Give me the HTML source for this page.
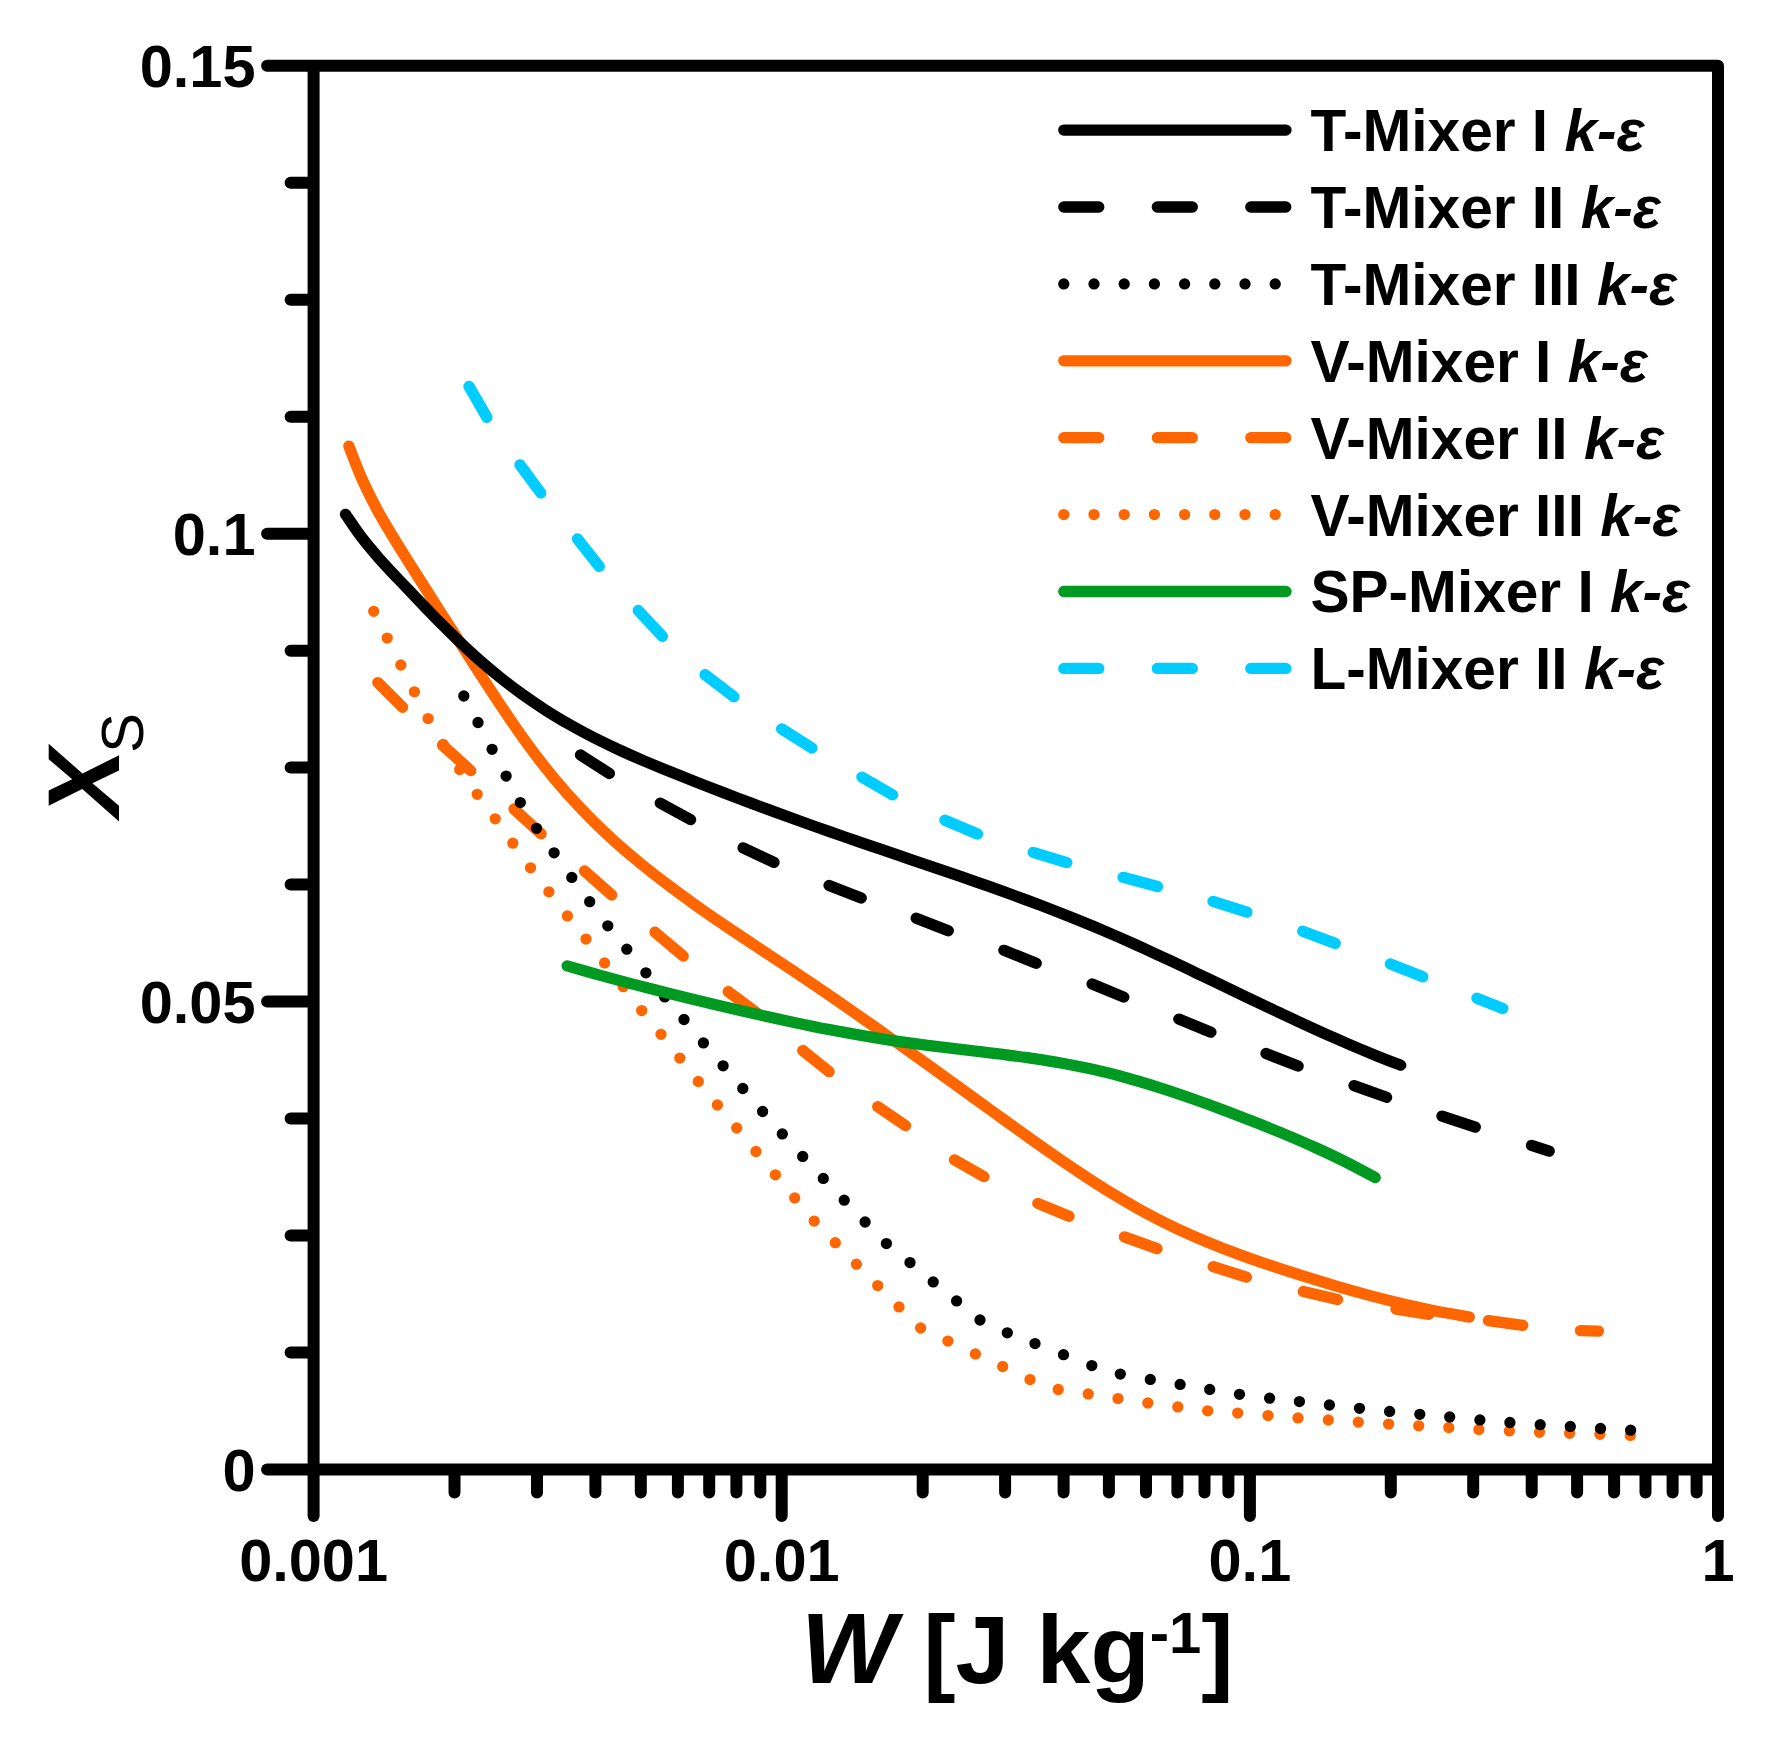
<!DOCTYPE html>
<html lang="en">
<head>
<meta charset="utf-8">
<title>X_S versus W for mixers</title>
<style>
html,body{margin:0;padding:0;background:#fff;}
body{width:1778px;height:1744px;overflow:hidden;}
svg{display:block;}
text{font-family:"Liberation Sans",sans-serif;font-weight:bold;fill:#000;}
.tick{font-size:59.5px;}
.leg{font-size:58.6px;}
.axl{font-size:97px;}
.it{font-style:italic;}
.ln{fill:none;stroke-width:11.3;stroke-linecap:round;stroke-linejoin:round;}
.ax{stroke-width:12;}
</style>
</head>
<body>
<svg width="1778" height="1744" viewBox="0 0 1778 1744">
<rect width="1778" height="1744" fill="#fff"/>

<g class="ln">
<path stroke="#ff6600" d="M348.9 446.1C351.0 451.4 356.9 467.5 361.5 477.9C366.1 488.3 371.2 498.5 376.5 508.5C381.9 518.6 387.8 528.3 393.7 538.0C399.6 547.8 405.8 557.3 411.8 567.0C417.9 576.6 424.0 586.2 430.1 595.8C436.2 605.4 442.4 615.0 448.5 624.6C454.6 634.2 460.7 643.8 466.9 653.4C473.0 663.0 479.1 672.6 485.4 682.1C491.6 691.7 497.8 701.2 504.2 710.6C510.6 720.1 517.0 729.5 523.6 738.7C530.3 748.0 537.1 757.1 544.1 766.0C551.2 775.0 558.5 783.7 566.0 792.3C573.6 800.8 581.4 809.1 589.4 817.2C597.4 825.3 605.7 833.1 614.1 840.8C622.5 848.4 631.2 855.8 640.0 863.0C648.8 870.2 657.8 877.2 666.9 884.1C675.9 891.0 685.1 897.7 694.4 904.3C703.7 910.9 713.0 917.4 722.5 923.8C731.9 930.2 741.4 936.5 750.8 942.8C760.3 949.1 769.9 955.3 779.3 961.6C788.8 967.9 798.3 974.2 807.8 980.6C817.2 986.9 826.6 993.4 836.0 999.8C845.4 1006.3 854.7 1012.8 864.0 1019.3C873.3 1025.9 882.6 1032.4 891.9 1039.0C901.2 1045.6 910.5 1052.3 919.7 1058.9C929.0 1065.5 938.2 1072.2 947.4 1078.9C956.7 1085.5 965.9 1092.2 975.1 1098.9C984.3 1105.5 993.6 1112.2 1002.8 1118.9C1012.0 1125.5 1021.3 1132.2 1030.6 1138.8C1039.9 1145.4 1049.2 1151.9 1058.5 1158.4C1067.9 1164.8 1077.4 1171.2 1086.9 1177.4C1096.4 1183.6 1106.0 1189.8 1115.8 1195.6C1125.5 1201.5 1135.4 1207.3 1145.4 1212.7C1155.4 1218.1 1165.6 1223.3 1175.8 1228.1C1186.1 1233.0 1196.6 1237.6 1207.1 1242.0C1217.6 1246.4 1228.2 1250.5 1238.9 1254.4C1249.5 1258.4 1260.3 1262.1 1271.1 1265.7C1281.9 1269.3 1292.8 1272.8 1303.6 1276.2C1314.5 1279.6 1325.4 1282.9 1336.3 1286.1C1347.2 1289.3 1358.2 1292.4 1369.2 1295.4C1380.2 1298.3 1391.2 1301.1 1402.3 1303.8C1413.4 1306.4 1424.5 1308.8 1435.7 1311.0C1446.8 1313.2 1463.7 1316.0 1469.3 1317.0"/>
<path stroke="#ff6600" d="M377.8 682.6L402.6 707.3M442.5 745.2L470.7 770.6M514.0 809.0L541.1 833.9M584.5 871.0L611.7 895.0M655.0 932.2L683.2 956.0M728.2 991.6L757.0 1013.0M802.7 1050.5L829.1 1071.6M877.7 1106.7L905.5 1125.7M954.5 1159.9L983.9 1176.6M1037.8 1203.4L1069.0 1216.3M1124.4 1236.9L1157.0 1248.6M1213.2 1266.7L1246.4 1277.1M1303.3 1291.5L1337.5 1299.5M1396.0 1309.2L1429.0 1314.3M1488.4 1320.6L1522.8 1325.3M1580.4 1330.6L1598.5 1331.1"/>
<path stroke="#ff6600" d="M373.7 611.3h0M387.2 638.1h0M400.8 665.0h0M414.4 691.8h0M428.1 718.6h0M443.2 744.5h0M459.7 769.5h0M477.2 794.3h0M495.2 818.8h0M512.8 843.2h0M530.5 867.8h0M548.9 891.8h0M567.4 915.9h0M586.0 939.1h0M604.6 962.9h0M623.2 986.7h0M641.7 1010.6h0M661.0 1034.3h0M679.8 1058.1h0M698.3 1081.4h0M717.4 1105.0h0M736.7 1128.0h0M755.9 1151.4h0M775.4 1174.8h0M794.7 1197.9h0M814.2 1221.1h0M835.3 1242.7h0M856.4 1264.2h0M877.7 1285.6h0M899.0 1306.9h0M920.6 1328.0h0M947.9 1341.1h0M975.4 1353.9h0M1002.7 1366.5h0M1030.0 1379.6h0M1058.2 1389.5h0M1088.2 1394.0h0M1118.0 1398.6h0M1147.8 1403.0h0M1177.8 1406.9h0M1207.7 1410.8h0M1237.7 1413.1h0M1268.0 1415.6h0M1298.0 1417.9h0M1328.3 1420.0h0M1358.3 1422.2h0M1388.6 1424.1h0M1418.7 1425.8h0M1448.8 1427.6h0M1478.9 1429.4h0M1509.4 1430.9h0M1539.5 1432.3h0M1569.6 1433.3h0M1599.9 1434.3h0M1630.3 1435.4h0"/>
<path stroke="#000" d="M345.5 514.3C348.2 518.1 355.9 529.9 361.6 537.3C367.3 544.7 373.4 551.9 379.6 558.9C385.8 565.9 392.3 572.7 398.7 579.5C405.2 586.3 411.6 593.1 418.1 599.9C424.6 606.6 431.1 613.4 437.6 620.1C444.2 626.7 450.8 633.4 457.6 639.9C464.3 646.4 471.2 652.8 478.2 659.0C485.2 665.2 492.4 671.2 499.7 677.1C507.0 682.9 514.5 688.6 522.1 694.1C529.7 699.5 537.5 704.8 545.3 709.9C553.2 714.9 561.2 719.8 569.4 724.4C577.5 729.1 585.8 733.5 594.1 737.8C602.4 742.0 610.9 746.1 619.4 750.0C627.9 753.9 636.5 757.7 645.1 761.4C653.7 765.0 662.4 768.6 671.1 772.1C679.8 775.6 688.5 779.0 697.2 782.5C705.9 785.9 714.7 789.3 723.4 792.6C732.2 796.0 740.9 799.3 749.7 802.6C758.5 805.9 767.2 809.2 776.0 812.4C784.8 815.6 793.6 818.8 802.5 822.0C811.3 825.1 820.1 828.3 828.9 831.4C837.8 834.5 846.6 837.6 855.5 840.6C864.3 843.7 873.2 846.7 882.1 849.7C890.9 852.8 899.8 855.8 908.7 858.8C917.6 861.8 926.4 864.8 935.3 867.8C944.2 870.8 953.0 873.9 961.9 876.9C970.7 880.0 979.6 883.1 988.4 886.2C997.2 889.3 1006.1 892.5 1014.9 895.7C1023.7 899.0 1032.4 902.2 1041.2 905.5C1050.0 908.9 1058.7 912.3 1067.4 915.7C1076.1 919.2 1084.8 922.7 1093.4 926.3C1102.1 930.0 1110.7 933.7 1119.3 937.4C1127.8 941.2 1136.4 945.0 1144.9 948.9C1153.4 952.8 1161.9 956.8 1170.4 960.7C1178.9 964.7 1187.4 968.7 1195.8 972.8C1204.3 976.8 1212.7 980.8 1221.2 984.9C1229.6 988.9 1238.0 993.0 1246.5 997.1C1255.0 1001.1 1263.4 1005.1 1271.9 1009.1C1280.3 1013.2 1288.8 1017.1 1297.3 1021.1C1305.8 1025.0 1314.3 1028.9 1322.9 1032.8C1331.4 1036.6 1340.0 1040.4 1348.6 1044.1C1357.2 1047.8 1365.9 1051.4 1374.5 1054.9C1383.2 1058.5 1396.3 1063.5 1400.7 1065.2"/>
<path stroke="#000" d="M580.5 755.0L609.4 773.5M660.3 803.1L690.6 819.6M743.1 847.8L774.0 862.4M829.1 885.4L861.2 898.0M916.2 918.2L948.3 930.8M1003.9 950.3L1036.2 963.3M1092.1 984.0L1123.8 997.1M1178.8 1019.1L1210.9 1032.2M1266.0 1053.5L1298.1 1066.1M1354.0 1085.6L1386.6 1097.3M1442.0 1116.1L1475.3 1127.1M1531.5 1145.4L1549.2 1151.1"/>
<path stroke="#000" d="M463.8 696.0h0M478.0 722.5h0M492.1 749.3h0M506.1 776.1h0M520.3 802.6h0M536.5 828.3h0M554.1 852.8h0M571.8 877.4h0M589.7 901.7h0M607.8 925.8h0M626.8 949.2h0M645.9 972.8h0M664.7 996.9h0M684.0 1019.5h0M703.4 1042.9h0M723.1 1065.8h0M742.8 1088.5h0M762.6 1111.5h0M782.3 1133.9h0M802.7 1156.4h0M823.3 1178.4h0M844.2 1200.2h0M865.1 1222.0h0M886.4 1243.6h0M910.0 1262.6h0M933.2 1281.9h0M956.6 1300.9h0M980.0 1320.0h0M1007.3 1332.8h0M1035.0 1343.6h0M1063.5 1354.7h0M1091.8 1365.6h0M1120.3 1374.1h0M1150.3 1379.4h0M1180.1 1384.4h0M1209.7 1389.4h0M1239.5 1394.3h0M1269.6 1398.2h0M1299.4 1401.6h0M1329.4 1405.0h0M1359.5 1408.3h0M1389.6 1411.4h0M1419.8 1414.3h0M1449.7 1417.0h0M1479.9 1419.9h0M1509.9 1422.5h0M1540.2 1424.7h0M1570.3 1426.4h0M1600.5 1428.5h0M1630.6 1430.2h0"/>
<path stroke="#009922" d="M567.2 965.9C572.6 967.4 588.7 972.1 599.5 975.1C610.3 978.1 621.1 981.0 631.9 983.9C642.7 986.7 653.6 989.5 664.5 992.2C675.3 994.9 686.2 997.6 697.1 1000.2C707.9 1002.9 718.8 1005.5 729.7 1008.0C740.6 1010.6 751.5 1013.1 762.5 1015.6C773.4 1018.0 784.3 1020.4 795.3 1022.7C806.2 1025.0 817.2 1027.3 828.2 1029.4C839.2 1031.5 850.2 1033.5 861.2 1035.4C872.3 1037.3 883.3 1039.1 894.4 1040.8C905.5 1042.4 916.6 1043.9 927.7 1045.3C938.8 1046.7 949.9 1048.0 961.0 1049.3C972.1 1050.7 983.2 1051.9 994.3 1053.3C1005.5 1054.7 1016.6 1056.1 1027.6 1057.7C1038.7 1059.4 1049.8 1061.0 1060.8 1063.0C1071.8 1065.0 1082.8 1067.1 1093.7 1069.6C1104.7 1072.0 1115.5 1074.7 1126.3 1077.7C1137.1 1080.6 1147.8 1083.9 1158.5 1087.3C1169.2 1090.6 1179.8 1094.3 1190.3 1098.0C1200.9 1101.7 1211.4 1105.5 1221.9 1109.5C1232.4 1113.4 1242.8 1117.5 1253.2 1121.6C1263.6 1125.7 1274.0 1129.8 1284.4 1134.1C1294.7 1138.4 1305.0 1142.8 1315.2 1147.5C1325.4 1152.1 1335.5 1156.8 1345.5 1161.9C1355.5 1166.9 1370.3 1175.0 1375.2 1177.6"/>
<path stroke="#00ccff" d="M469.0 386.4L486.9 417.3M520.0 464.8L540.8 493.0M577.5 538.9L599.3 566.4M638.3 610.5L662.4 636.4M705.1 674.7L733.9 696.7M781.6 728.9L811.9 748.0M861.9 777.1L892.6 794.8M944.9 820.2L977.5 834.0M1033.2 852.3L1066.8 862.6M1123.1 877.3L1157.5 886.5M1213.0 901.4L1246.9 912.2M1302.7 931.2L1335.2 943.4M1390.4 964.0L1422.8 976.8M1476.9 998.2L1502.8 1008.5"/>
</g>
<g class="ln ax" stroke="#000">
<path d="M267.1 65.7H1718.0V1516.1"/>
<path d="M313.6 71.7V1516.1"/>
<path d="M267.1 1469.6H1718.0"/>
<path d="M307.6 182.7h-17.0M307.6 299.7h-17.0M307.6 416.7h-17.0M307.6 533.7h-40.5M307.6 650.7h-17.0M307.6 767.6h-17.0M307.6 884.6h-17.0M307.6 1001.6h-40.5M307.6 1118.6h-17.0M307.6 1235.6h-17.0M307.6 1352.6h-17.0"/>
<path d="M454.5 1475.6v17.0M537.0 1475.6v17.0M595.4 1475.6v17.0M640.8 1475.6v17.0M677.9 1475.6v17.0M709.2 1475.6v17.0M736.4 1475.6v17.0M760.3 1475.6v17.0M781.7 1475.6v40.5M922.7 1475.6v17.0M1005.1 1475.6v17.0M1063.6 1475.6v17.0M1108.9 1475.6v17.0M1146.0 1475.6v17.0M1177.4 1475.6v17.0M1204.5 1475.6v17.0M1228.4 1475.6v17.0M1249.9 1475.6v40.5M1390.8 1475.6v17.0M1473.2 1475.6v17.0M1531.7 1475.6v17.0M1577.1 1475.6v17.0M1614.1 1475.6v17.0M1645.5 1475.6v17.0M1672.6 1475.6v17.0M1696.6 1475.6v17.0"/>
</g>
<g class="tick">
<text x="255.5" y="86.7" text-anchor="end">0.15</text>
<text x="255.5" y="554.7" text-anchor="end">0.1</text>
<text x="255.5" y="1022.6" text-anchor="end">0.05</text>
<text x="255.5" y="1490.6" text-anchor="end">0</text>
<text x="313.6" y="1581.3" text-anchor="middle">0.001</text>
<text x="781.7" y="1581.3" text-anchor="middle">0.01</text>
<text x="1249.9" y="1581.3" text-anchor="middle">0.1</text>
<text x="1718.0" y="1581.3" text-anchor="middle">1</text>
</g>
<text class="axl" x="1017.3" y="1682.6" text-anchor="middle"><tspan class="it" font-size="101.0">W</tspan> [J kg<tspan font-size="58.0" dy="-30.0">-1</tspan><tspan dy="30.0">]</tspan></text>
<text class="axl" transform="translate(118.6 764.8) rotate(-90)" text-anchor="middle"><tspan class="it" font-size="102.0">X</tspan><tspan font-size="60.0" font-weight="normal" dx="-4.3" dy="24.5">S</tspan></text>
<g class="ln">
<path stroke="#000" d="M1063.8 130.1H1286.0"/>
<path stroke="#000" stroke-dasharray="35 58.5" d="M1063.8 207.0H1286.0"/>
<path stroke="#000" stroke-dasharray="0 30.2" d="M1063.8 283.9H1276.0"/>
<path stroke="#ff6600" d="M1063.8 360.8H1286.0"/>
<path stroke="#ff6600" stroke-dasharray="35 58.5" d="M1063.8 437.7H1286.0"/>
<path stroke="#ff6600" stroke-dasharray="0 30.2" d="M1063.8 514.6H1276.0"/>
<path stroke="#009922" d="M1063.8 591.5H1286.0"/>
<path stroke="#00ccff" stroke-dasharray="35 58.5" d="M1063.8 668.4H1286.0"/>
</g>
<g class="leg">
<text x="1310.4" y="151.0">T-Mixer I <tspan class="it">k-ε</tspan></text>
<text x="1310.4" y="227.9">T-Mixer II <tspan class="it">k-ε</tspan></text>
<text x="1310.4" y="304.8">T-Mixer III <tspan class="it">k-ε</tspan></text>
<text x="1310.4" y="381.7">V-Mixer I <tspan class="it">k-ε</tspan></text>
<text x="1310.4" y="458.6">V-Mixer II <tspan class="it">k-ε</tspan></text>
<text x="1310.4" y="535.5">V-Mixer III <tspan class="it">k-ε</tspan></text>
<text x="1310.4" y="612.4">SP-Mixer I <tspan class="it">k-ε</tspan></text>
<text x="1310.4" y="689.3">L-Mixer II <tspan class="it">k-ε</tspan></text>
</g>
</svg>
</body>
</html>
